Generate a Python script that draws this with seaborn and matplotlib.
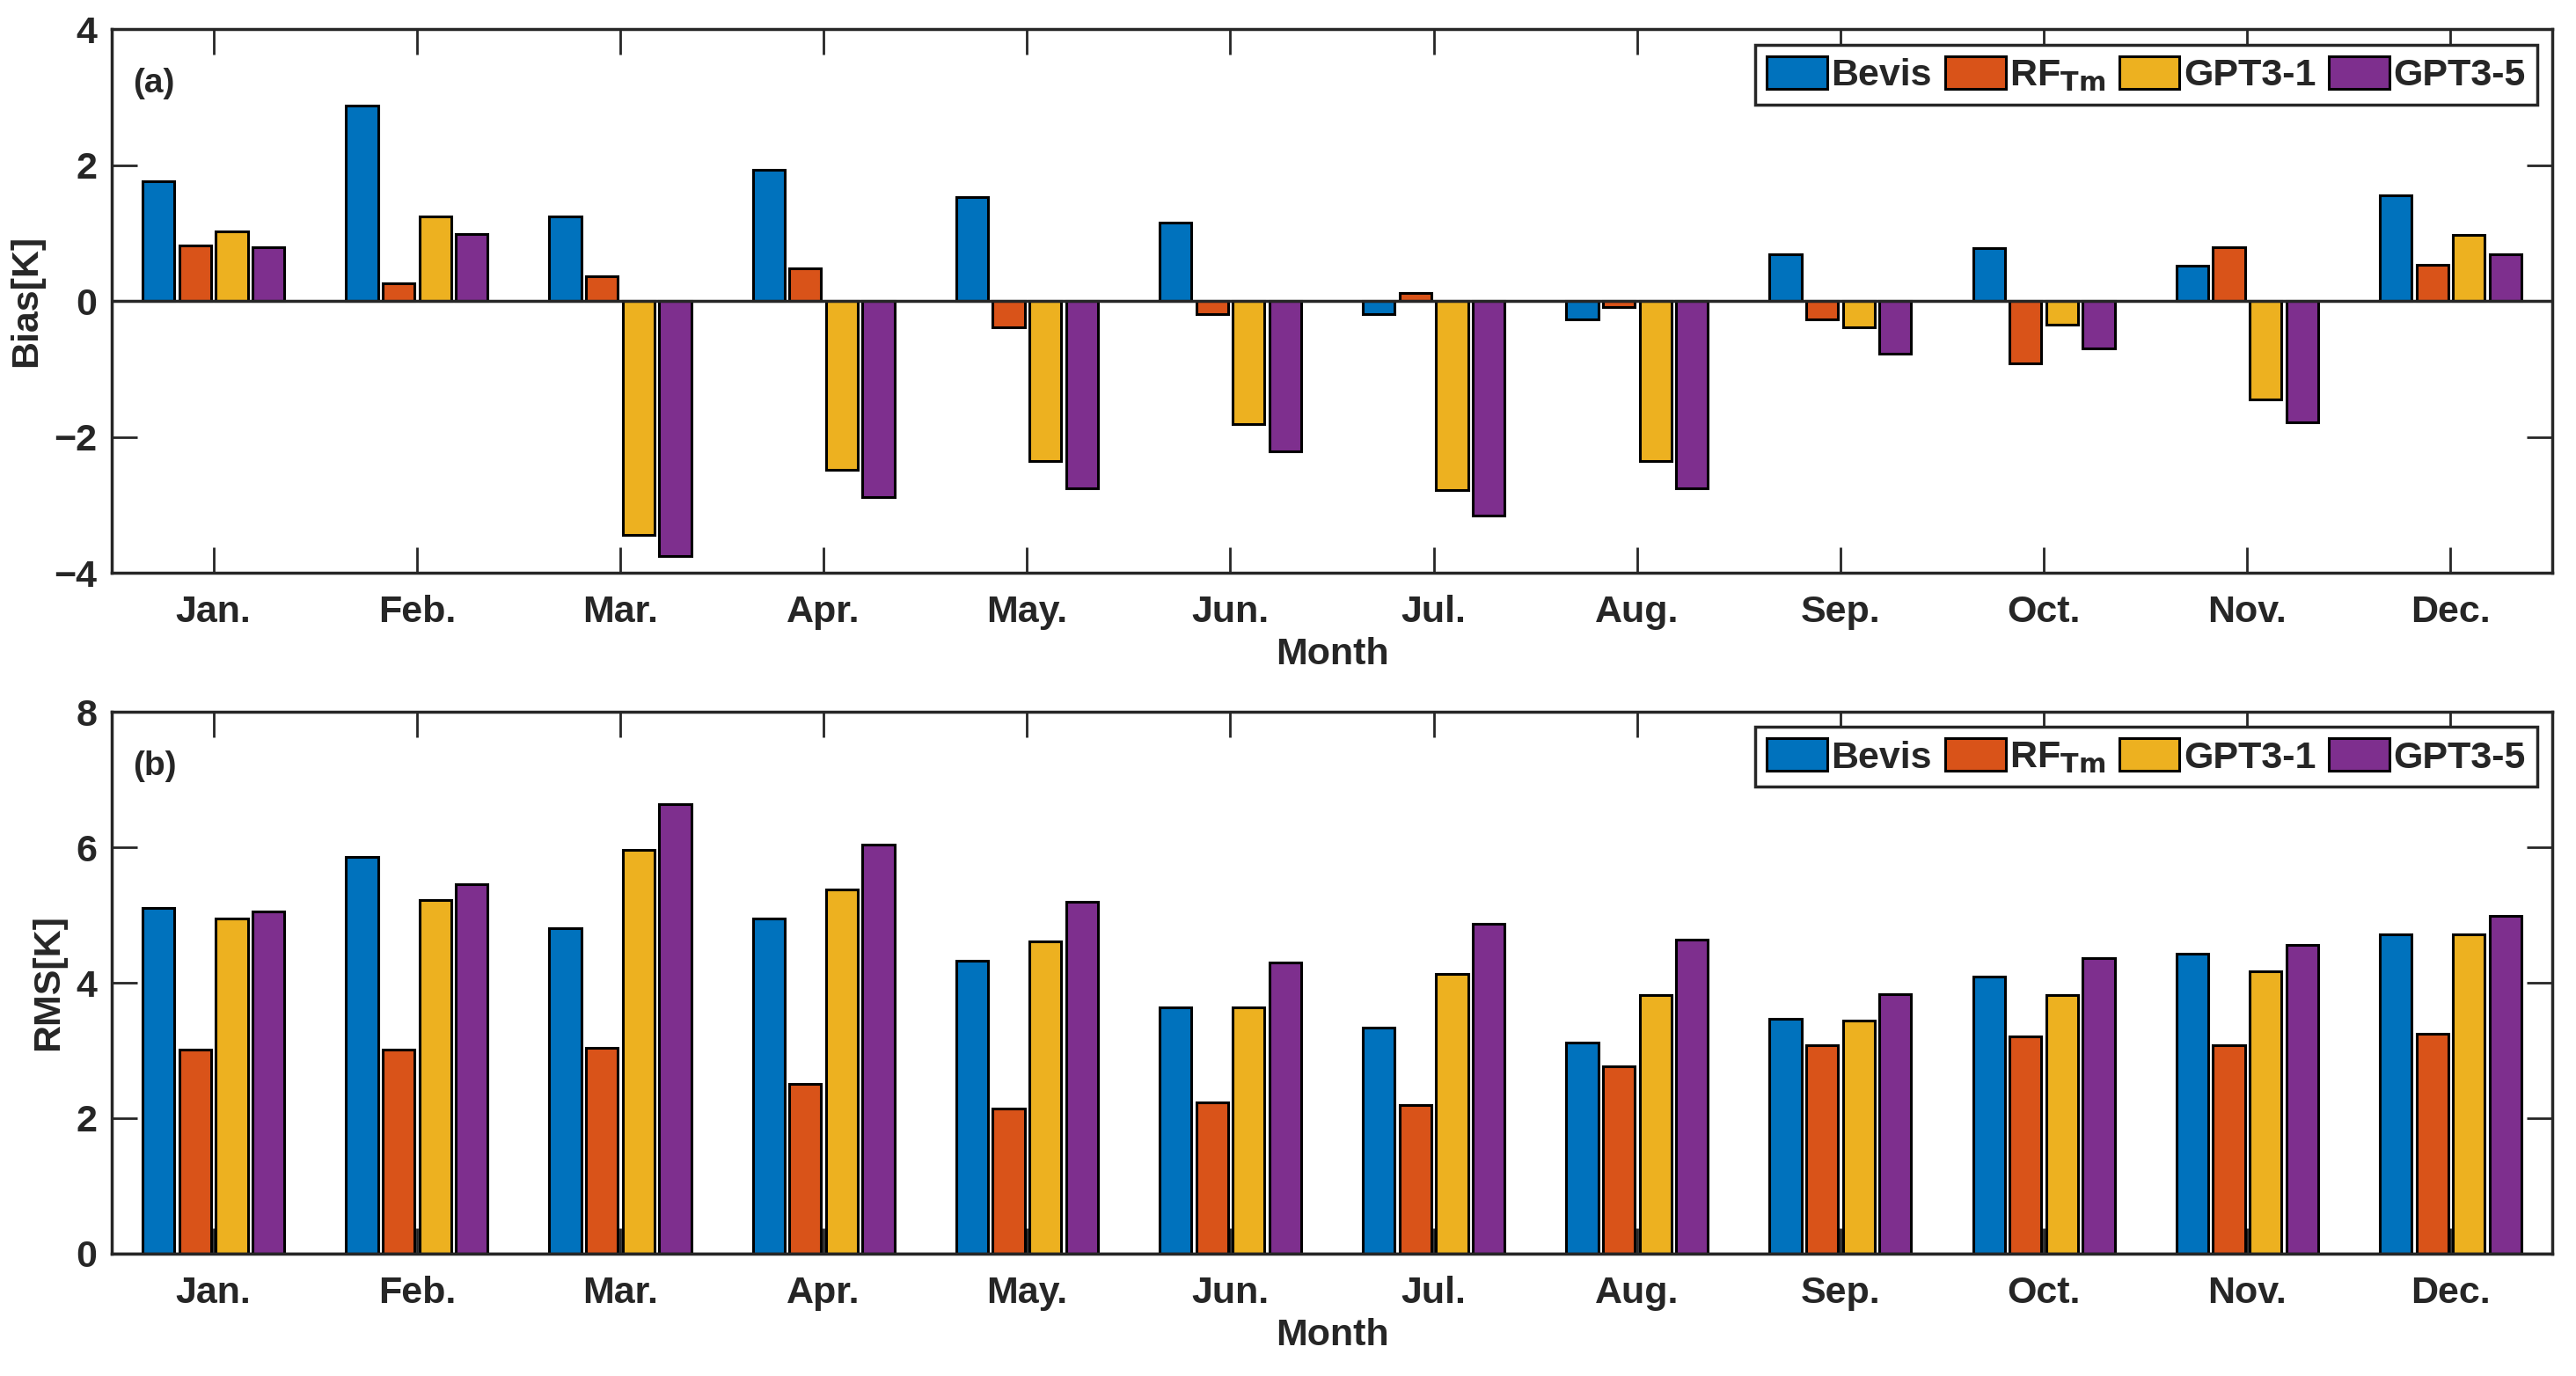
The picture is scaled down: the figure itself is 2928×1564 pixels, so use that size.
import pandas as pd
import matplotlib.pyplot as plt
import seaborn as sns

# Monthly Tm accuracy per model
months = ['Jan.', 'Feb.', 'Mar.', 'Apr.', 'May.', 'Jun.',
          'Jul.', 'Aug.', 'Sep.', 'Oct.', 'Nov.', 'Dec.']
models = ['Bevis', 'RF$_{\\mathbf{Tm}}$', 'GPT3-1', 'GPT3-5']

bias_bevis = [1.77, 2.88, 1.25, 1.93, 1.53, 1.15, -0.19, -0.27, 0.69, 0.78, 0.52, 1.56]
bias_rf = [0.82, 0.26, 0.36, 0.48, -0.38, -0.19, 0.12, -0.09, -0.27, -0.92, 0.79, 0.54]
bias_gpt1 = [1.03, 1.25, -3.44, -2.48, -2.35, -1.81, -2.78, -2.35, -0.38, -0.34, -1.45, 0.97]
bias_gpt5 = [0.80, 0.99, -3.75, -2.88, -2.76, -2.21, -3.16, -2.76, -0.78, -0.69, -1.78, 0.69]

rms_bevis = [5.10, 5.86, 4.81, 4.95, 4.33, 3.63, 3.34, 3.12, 3.47, 4.09, 4.43, 4.72]
rms_rf = [3.01, 3.01, 3.04, 2.51, 2.14, 2.24, 2.19, 2.77, 3.08, 3.21, 3.08, 3.25]
rms_gpt1 = [4.95, 5.22, 5.96, 5.38, 4.61, 3.63, 4.13, 3.82, 3.44, 3.82, 4.17, 4.72]
rms_gpt5 = [5.05, 5.45, 6.64, 6.04, 5.19, 4.30, 4.87, 4.64, 3.83, 4.37, 4.56, 4.99]

colors = ['#0072BD', '#D95319', '#EDB120', '#7E2F8E']


def long_table(series, name):
    rows = []
    for model, vals in zip(models, series):
        for m, v in zip(months, vals):
            rows.append({'Month': m, 'Model': model, name: v})
    return pd.DataFrame(rows)


bias_df = long_table([bias_bevis, bias_rf, bias_gpt1, bias_gpt5], 'Bias')
rms_df = long_table([rms_bevis, rms_rf, rms_gpt1, rms_gpt5], 'RMS')

sns.set_style('ticks')
plt.rcParams['font.family'] = ['Liberation Sans', 'DejaVu Sans']
plt.rcParams['font.weight'] = 'bold'
plt.rcParams['axes.labelweight'] = 'bold'
plt.rcParams['font.size'] = 31
plt.rcParams['text.color'] = '#262626'
plt.rcParams['axes.labelcolor'] = '#262626'
plt.rcParams['mathtext.default'] = 'bf'

fig = plt.figure(figsize=(29.28, 15.64), dpi=100)
ax_a = fig.add_axes([0.0434, 0.5837, 0.9474, 0.3949])
ax_b = fig.add_axes([0.0434, 0.0889, 0.9474, 0.3938])

panels = [
    (ax_a, bias_df, 'Bias', 'Bias[K]', (-4, 4), [-4, -2, 0, 2, 4], '(a)'),
    (ax_b, rms_df, 'RMS', 'RMS[K]', (0, 8), [0, 2, 4, 6, 8], '(b)'),
]

for ax, df, col, ylabel, ylim, yticks, tag in panels:
    sns.barplot(data=df, x='Month', y=col, hue='Model', palette=colors,
                saturation=1, width=0.72, gap=0.13, edgecolor='black',
                linewidth=2.2, ax=ax, zorder=2)
    ax.axhline(0, color='#262626', lw=2.5, zorder=3)
    ax.set_xlim(-0.5, 11.5)
    ax.set_ylim(*ylim)
    ax.set_yticks(yticks)
    ax.set_ylabel(ylabel, fontsize=31, labelpad=8)
    ax.set_xlabel('Month', fontsize=31, labelpad=6)
    ax.tick_params(direction='in', top=True, right=True, length=21, width=2,
                   colors='#262626', labelsize=31)
    ax.tick_params(axis='x', pad=18)
    ax.tick_params(axis='y', pad=12)
    for lab in ax.get_xticklabels() + ax.get_yticklabels():
        lab.set_fontweight('bold')
    for sp in ax.spines.values():
        sp.set_linewidth(2.5)
        sp.set_color('#262626')
        sp.set_visible(True)
    ax.text(0.0085, 0.9, tag, transform=ax.transAxes, fontsize=28,
            fontweight='bold', va='center', ha='left')
    leg = ax.legend(loc='upper right', ncol=4, fontsize=31, frameon=True,
                    fancybox=False, framealpha=1, edgecolor='#262626',
                    handlelength=1.6, handleheight=0.95, handletextpad=0.1,
                    columnspacing=0.35, borderaxespad=0.4, borderpad=0.3)
    leg.get_frame().set_linewidth(2.5)
    for t in leg.get_texts():
        t.set_fontweight('bold')

fig.savefig('out.png', dpi=100)
